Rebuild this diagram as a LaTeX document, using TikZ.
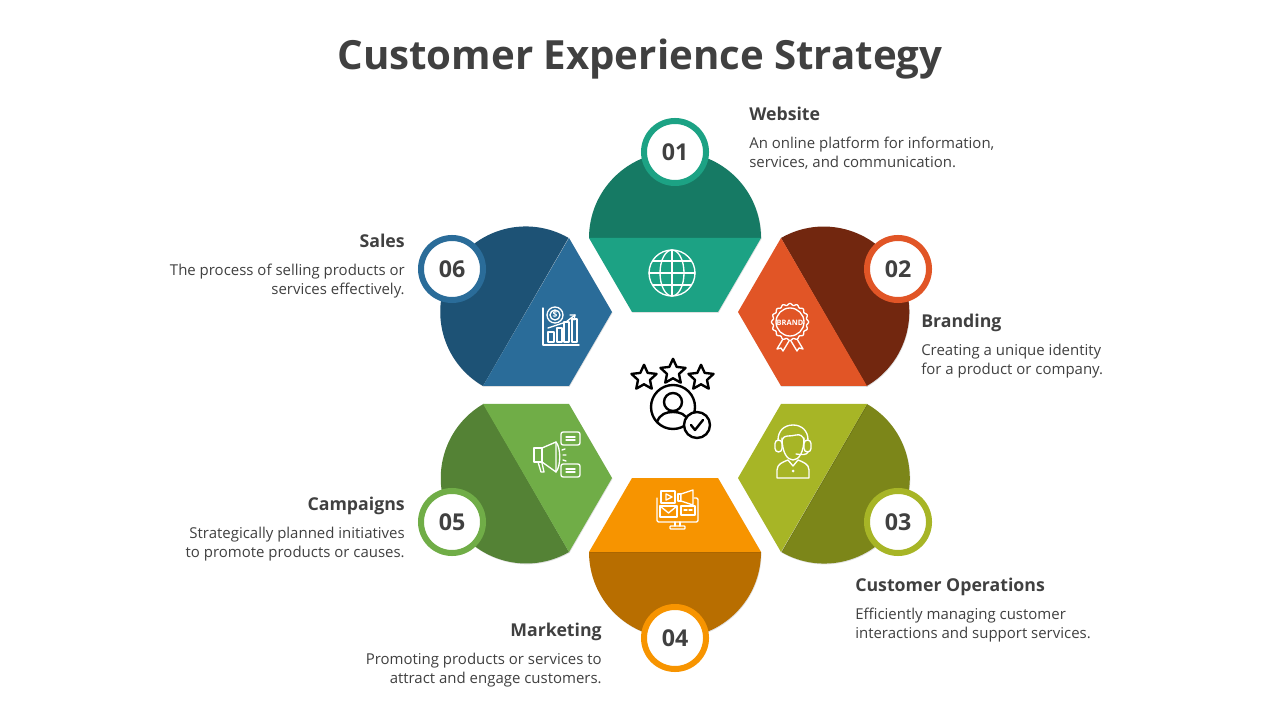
\documentclass[tikz,border=0pt]{standalone}
\usepackage{fontspec}
\setmainfont{Open Sans}
\usetikzlibrary{positioning}
\usetikzlibrary{shapes.geometric, shadows}

\definecolor{tealL}{HTML}{1CA284}
\definecolor{tealD}{HTML}{167A64}
\definecolor{rustL}{HTML}{E15526}
\definecolor{rustD}{HTML}{72270F}
\definecolor{oliveL}{HTML}{A7B526}
\definecolor{oliveD}{HTML}{7C8619}
\definecolor{amberL}{HTML}{F79400}
\definecolor{amberD}{HTML}{B86E00}
\definecolor{leafL}{HTML}{70AD47}
\definecolor{leafD}{HTML}{548235}
\definecolor{navyL}{HTML}{2A6C99}
\definecolor{navyD}{HTML}{1D5275}
\definecolor{ink}{HTML}{404040}

\tikzset{
  petal/.style={general shadow={fill=black, opacity=.12, shadow xshift=.4pt, shadow yshift=-.6pt}},
  badge/.style={circle, fill=white, line width=4.27pt, minimum size=1.55cm, inner sep=0pt,
    text=ink, font=\fontsize{16.5}{18}\selectfont\bfseries,
    general shadow={fill=black, opacity=.15, shadow xshift=.4pt, shadow yshift=-.6pt}},
  heading/.style={inner sep=0pt, text=ink, font=\fontsize{12.6}{15}\selectfont\bfseries},
  bodyleft/.style={inner sep=0pt, text=ink, align=left, font=\fontsize{10.65}{13.5}\selectfont},
  bodyright/.style={inner sep=0pt, text=ink, align=right, font=\fontsize{10.65}{13.5}\selectfont},
  icon/.style={draw=white, line width=.95pt, line join=round, line cap=round},
  blackline/.style={draw=black, line width=1.7pt, line join=round, line cap=round},
  starmark/.style={star, star points=5, star point ratio=2.1, minimum size=.66cm, inner sep=0pt,
    draw=black, line width=1.7pt, line join=round}
}

\begin{document}
\begin{tikzpicture}[x=.025cm, y=-.025cm]

\useasboundingbox (0,0) rectangle (1280,720);

\node[text=ink, font=\fontsize{28.6}{34}\selectfont\bfseries] (title) at (640,59.5) {Customer Experience Strategy};

% petals
\fill[tealD, petal] (589,238) arc[start angle=180, end angle=360, radius=86] -- cycle;
\fill[tealL, petal] (589,238) -- (761,238) -- (718,312) -- (632,312) -- cycle;

\fill[rustD, petal] (781,238) arc[start angle=240, end angle=420, radius=85.5] -- cycle;
\fill[rustL, petal] (781,238) -- (867,386) -- (781,386) -- (738,312) -- cycle;

\fill[oliveD, petal] (867,404) arc[start angle=-60, end angle=120, radius=85.5] -- cycle;
\fill[oliveL, petal] (867,404) -- (781,552) -- (738,478) -- (781,404) -- cycle;

\fill[amberD, petal] (761,552) arc[start angle=0, end angle=180, radius=86] -- cycle;
\fill[amberL, petal] (589,552) -- (761,552) -- (718,478) -- (632,478) -- cycle;

\fill[leafD, petal] (569,552) arc[start angle=60, end angle=240, radius=85.5] -- cycle;
\fill[leafL, petal] (569,552) -- (483,404) -- (569,404) -- (612,478) -- cycle;

\fill[navyD, petal] (483,386) arc[start angle=120, end angle=300, radius=85.5] -- cycle;
\fill[navyL, petal] (483,386) -- (569,238) -- (612,312) -- (569,386) -- cycle;

% number badges
\node[badge, draw=tealL] (b1) at (675,152) {01};
\node[badge, draw=rustL] (b2) at (898,269) {02};
\node[badge, draw=oliveL] (b3) at (898,522) {03};
\node[badge, draw=amberL] (b4) at (675,638) {04};
\node[badge, draw=leafL] (b5) at (452,522) {05};
\node[badge, draw=navyL] (b6) at (452,269) {06};

% labels
\node[heading, anchor=base west] (h1) at (749,120.5) {Website};
\node[bodyleft, anchor=north west] (t1) at (749,136.7) {An online platform for information,\\services, and communication.};
\node[heading, anchor=base west] (h2) at (921,327.5) {Branding};
\node[bodyleft, anchor=north west] (t2) at (921,343.7) {Creating a unique identity\\for a product or company.};
\node[heading, anchor=base west] (h3) at (855,591.5) {Customer Operations};
\node[bodyleft, anchor=north west] (t3) at (855,607.7) {Efficiently managing customer\\interactions and support services.};
\node[heading, anchor=base east] (h4) at (602,636.5) {Marketing};
\node[bodyright, anchor=north east] (t4) at (602,652.7) {Promoting products or services to\\attract and engage customers.};
\node[heading, anchor=base east] (h5) at (405,510.5) {Campaigns};
\node[bodyright, anchor=north east] (t5) at (405,526.7) {Strategically planned initiatives\\to promote products or causes.};
\node[heading, anchor=base east] (h6) at (405,247.5) {Sales};
\node[bodyright, anchor=north east] (t6) at (405,263.7) {The process of selling products or\\services effectively.};

% centre mark
\node[starmark] (s1) at (644,378) {};
\node[starmark] (s2) at (673,372) {};
\node[starmark] (s3) at (701,378) {};
\draw[blackline] (673,407) circle (22);
\draw[blackline] (673,402) circle (9);
\draw[blackline] (657,422) .. controls (660,414) and (666,412) .. (673,412) .. controls (680,412) and (686,414) .. (689,422);
\draw[blackline, fill=white] (697,425) circle (13);
\draw[blackline] (691,425) -- (695,430) -- (703,420);

% globe
\draw[icon] (672,273) circle (23);
\draw[icon] (672,273) ellipse (12 and 23);
\draw[icon] (672,250) -- (672,296);
\draw[icon] (649,273) -- (695,273);
\draw[icon] (653,261) -- (691,261);
\draw[icon] (653,285) -- (691,285);

% brand seal
\draw[icon, fill=rustL] (783,339) -- (777,349) -- (781,348) -- (783,351) -- (789,341);
\draw[icon, fill=rustL] (797,339) -- (803,349) -- (799,348) -- (797,351) -- (791,341);
\draw[icon, fill=rustL] plot[domain=0:360, samples=145, smooth] ({790+(17.7+.9*cos(16*\x))*cos(\x)}, {322+(17.7+.9*cos(16*\x))*sin(\x)}) -- cycle;
\draw[icon] (790,322) circle (14);
\node[text=white, inner sep=0pt, font=\fontsize{5.3}{6}\selectfont\bfseries] (brand) at (790,322.5) {BRAND};

% agent
\draw[icon] (782,438) .. controls (782,452) and (787,460) .. (793,460) .. controls (799,460) and (804,452) .. (804,438);
\draw[icon] (782,440) .. controls (784,434) and (790,437) .. (796,435) .. controls (800,434) and (803,436) .. (804,440);
\draw[icon] (778,440) .. controls (778,431) and (784,425) .. (793,425) .. controls (802,425) and (808,431) .. (808,440);
\draw[icon, rounded corners=2.5] (775,440) rectangle (782,452);
\draw[icon, rounded corners=2.5] (804,440) rectangle (811,452);
\draw[icon] (808,452) .. controls (807,455) and (802,455) .. (796,454);
\draw[icon] (777,478) -- (777,470) .. controls (777,464) and (783,462) .. (788,460) -- (793,466) -- (798,460) .. controls (803,462) and (809,464) .. (809,470) -- (809,478) -- cycle;
\fill[white] (793,471) circle (1.5);

% megaphone and bubbles
\draw[icon] (534,448) rectangle (542,462);
\draw[icon] (542,448) -- (556,442) -- (556,472) -- (542,462);
\draw[icon] (556,442) .. controls (561,448) and (561,466) .. (556,472);
\draw[icon] (538,462) -- (541,472) -- (544,472) -- (542,463);
\draw[icon, rounded corners=1.5] (561,432) rectangle (580,445);
\draw[icon, rounded corners=1.5] (561,464) rectangle (580,477);
\draw[icon] (566,437) -- (575,437) (566,440) -- (575,440);
\draw[icon] (566,469) -- (575,469) (566,472) -- (575,472);
\draw[icon] (562,450) -- (565,449) (563,455) -- (566,455) (563,460) -- (566,461);

% screen
\draw[icon, rounded corners=1] (657,498) -- (657,522) -- (698,522) -- (698,498) -- (694,498);
\draw[icon] (675,522) -- (675,526) (680,522) -- (680,526);
\draw[icon, rounded corners=.5] (670,526) rectangle (685,529);
\draw[icon, fill=amberL] (661,491) rectangle (675,503);
\draw[icon] (666,494) -- (672,497) -- (666,500) -- cycle;
\draw[icon, fill=amberL] (678,494) rectangle (681,501);
\draw[icon, fill=amberL] (681,494) -- (693,490) -- (693,505) -- (681,501) -- cycle;
\draw[icon] (660,506) rectangle (677,517);
\draw[icon] (660,506) -- (668.5,513) -- (677,506);
\draw[icon] (681,506) rectangle (695,515);
\draw[icon] (684,510) -- (687,510) (689,510) -- (692,510);

% chart
\draw[icon] (543,308) -- (543,345) -- (579,345);
\draw[icon] (548,332) rectangle (554,342);
\draw[icon] (557,328) rectangle (562,342);
\draw[icon] (564,322) rectangle (569,342);
\draw[icon] (572,319) rectangle (577,342);
\draw[icon] (548,328) -- (566,322) -- (575,315);
\draw[icon] (570,315) -- (575,315) -- (574,320);
\draw[icon, fill=navyL] (555,315) circle (8);
\draw[icon] (555,315) circle (5);
\node[text=white, inner sep=0pt, font=\fontsize{6}{7}\selectfont\bfseries] (coin) at (555,315) {\$};

\end{tikzpicture}
\end{document}
